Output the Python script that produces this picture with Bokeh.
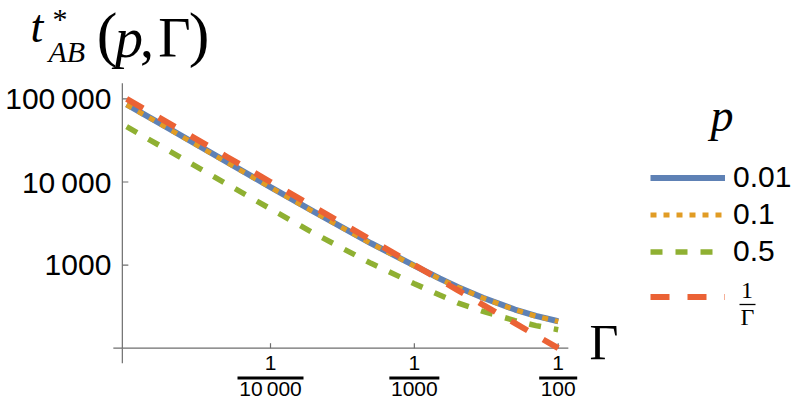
import math
from bokeh.plotting import figure
from bokeh.models import Label, Legend, LegendItem, Range1d, Whisker, ColumnDataSource
from bokeh.embed import file_html
from bokeh.resources import INLINE
from bokeh.core.properties import value

# ---------------- data ----------------
gamma = [1e-5, 2e-5, 5e-5, 1e-4, 2e-4, 5e-4, 1e-3, 1.5e-3, 2e-3, 3e-3, 5e-3, 7e-3, 1e-2]
t_p001 = [86000, 43200, 17300, 8700, 4400, 1830, 985, 690, 545, 405, 292, 245, 211]
t_p01 = [85000, 42700, 17100, 8620, 4360, 1815, 978, 686, 542, 402, 290, 243, 210]
t_p05 = [46500, 23300, 9400, 4750, 2420, 1050, 598, 436, 352, 277, 215, 187, 167]
t_inv = [100000, 50000, 20000, 10000, 5000, 2000, 1000, 667, 500, 333, 200, 143, 100]

y_ticks = [1000, 10000, 100000]
y_tick_labels = ["1000", "10\u2009000", "100\u2009000"]
x_ticks = [1e-4, 1e-3, 1e-2]
x_tick_num = ["1", "1", "1"]
x_tick_den = ["10\u2009000", "1000", "100"]
legend_labels = ["0.01", "0.1", "0.5"]

# ---------------- layout constants ----------------
W, H = 793, 403
# the frame fills the whole canvas; ranges chosen so that 1/100 sits at x=557.7px,
# 143.85 px per x-decade, y=100 at 347.7px and 83.1 px per y-decade
PPX, PPY = 143.85, 83.1
LX0 = -2 - 557.7 / PPX
LX1 = -2 + (W - 557.7) / PPX
LY1 = 2 + 347.7 / PPY
LY0 = 2 - (H - 347.7) / PPY
X_ORIGIN = 10 ** -5.03      # where the vertical axis crosses
Y_ORIGIN = 100              # where the horizontal axis crosses
AX = "#6e6e6e"
SANS = "Liberation Sans"
SERIF = "Liberation Serif"
BASE_SHIFT = 0.40           # labels' drawn baseline sits this many em lower than asked

def sx(ix):  # picture x -> screen x (from left)
    return ix

def sy(iy):  # picture y -> screen y (upwards from bottom)
    return H - iy

p = figure(width=W, height=H, x_axis_type="log", y_axis_type="log",
           x_range=Range1d(10 ** LX0, 10 ** LX1), y_range=Range1d(10 ** LY0, 10 ** LY1),
           x_axis_location=None, y_axis_location=None,
           output_backend="svg", toolbar_location=None,
           min_border_left=0, min_border_right=0, min_border_top=0, min_border_bottom=0)
p.outline_line_color = None
p.grid.visible = False
p.background_fill_color = "white"
p.border_fill_color = "white"

# axis lines crossing at (X_ORIGIN, Y_ORIGIN)
p.ray(x=[X_ORIGIN] * 4, y=[Y_ORIGIN] * 4, length=[446, 9, 265, 15],
      angle=[0, math.pi, math.pi / 2, -math.pi / 2], length_units="screen",
      line_color=AX, line_width=1.2)
# inward ticks
p.ray(x=[X_ORIGIN] * len(y_ticks), y=y_ticks, length=6, angle=0, length_units="screen",
      line_color=AX, line_width=1.2)
p.ray(x=x_ticks, y=[Y_ORIGIN] * len(x_ticks), length=5, angle=math.pi / 2,
      length_units="screen", line_color=AX, line_width=1.2)

# y tick labels
p.text(x=[X_ORIGIN] * len(y_ticks), y=y_ticks, text=y_tick_labels, x_offset=-11,
       text_align="right", text_baseline="middle", text_font=value(SANS),
       text_font_size="30px", text_color="black")

# curves
r_blue = p.line(gamma, t_p001, line_color="#5E81B5", line_width=6)
r_orange = p.line(gamma, t_p01, line_color="#E19C24", line_width=5, line_dash="6 7")
r_green = p.line(gamma, t_p05, line_color="#8FB032", line_width=5.5, line_dash="12 13")
r_red = p.line(gamma, t_inv, line_color="#EB6235", line_width=6, line_dash="19 18")

def lab(text, ix, iy, size, font=SERIF, style="normal", align="left", x_data=False):
    p.add_layout(Label(x=ix if x_data else sx(ix), y=sy(iy - BASE_SHIFT * size),
                       x_units="data" if x_data else "screen", y_units="screen", text=text,
                       text_font=font, text_font_size=f"{size}px", text_font_style=style,
                       text_align=align, text_baseline="alphabetic", text_color="black"))

# x tick labels as fractions 1/N
for t, num, den in zip(x_ticks, x_tick_num, x_tick_den):
    lab(num, t, 371, 21, font=SANS, align="center", x_data=True)
    lab(den, t, 396.5, 21, font=SANS, align="center", x_data=True)
bar_w = [66, 50, 38]
bars = ColumnDataSource(dict(
    base=[sy(377.5)] * len(x_ticks),
    lower=[t * 10 ** (-w / 2 / PPX) for t, w in zip(x_ticks, bar_w)],
    upper=[t * 10 ** (w / 2 / PPX) for t, w in zip(x_ticks, bar_w)]))
p.add_layout(Whisker(source=bars, base="base", lower="lower", upper="upper", dimension="width",
                     base_units="screen", line_color="black", line_width=3,
                     lower_head=None, upper_head=None))

# title t*_AB(p, Γ)
lab("t", 30, 44, 46, style="italic")
lab("*", 52, 30, 30)
lab("AB", 48, 63, 30, style="italic")
lab("(", 106.5, 58.5, 62, align="center")
lab("p", 128.5, 60, 56, style="italic", align="center")
lab(",", 146.5, 60, 56, align="center")
lab("Γ", 174, 60, 56, align="center")
lab(")", 198.5, 58.5, 62, align="center")

# x axis label
lab("Γ", 603.5, 361, 50, align="center")

# legend
leg_common = dict(orientation="vertical", glyph_width=75, glyph_height=37, label_height=37,
                  label_standoff=8, spacing=0, padding=0, margin=0,
                  border_line_color=None, background_fill_alpha=0,
                  label_text_font=SANS, label_text_font_size="30px", label_text_color="black")
leg1 = Legend(items=[LegendItem(label=l, renderers=[r]) for l, r in
                     zip(legend_labels, [r_blue, r_orange, r_green])],
              location=(sx(650), sy(269.5)), **leg_common)
leg2 = Legend(items=[LegendItem(label=" ", renderers=[r_red])],
              location=(sx(650), sy(315)), **leg_common)
p.add_layout(leg1)
p.add_layout(leg2)
lab("p", 721.5, 133, 46, style="italic", align="center")
lab("1", 746.5, 300, 24, align="center")
lab("Γ", 747, 326.5, 24, align="center")
fbar = ColumnDataSource(dict(base=[sy(304)], lower=[sx(739)], upper=[sx(755)]))
p.add_layout(Whisker(source=fbar, base="base", lower="lower", upper="upper", dimension="width",
                     base_units="screen", lower_units="screen", upper_units="screen",
                     line_color="black", line_width=1.3, lower_head=None, upper_head=None))

open("out.html", "w").write(file_html(p, INLINE))
